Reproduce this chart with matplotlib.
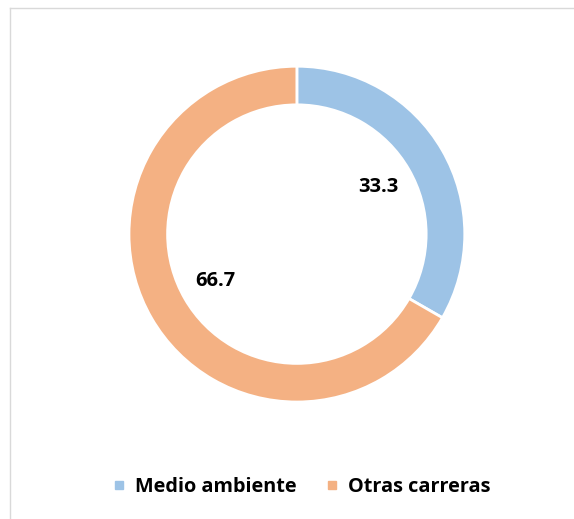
import matplotlib
matplotlib.use('Agg')
import matplotlib.pyplot as plt
from matplotlib.lines import Line2D
import numpy as np

plt.rcParams['font.family'] = ['Open Sans', 'DejaVu Sans']

categorias = ['Medio ambiente', 'Otras carreras']
valores = [33.3, 66.7]
colores = ['#9DC3E6', '#F4B183']

fig = plt.figure(figsize=(5.74, 5.19), dpi=100)
ax = fig.add_axes([0.2247, 0.2254, 0.585, 0.647])

wedges, _ = ax.pie(valores, colors=colores, startangle=90, counterclock=False,
                   radius=1, wedgeprops=dict(width=0.23, edgecolor='white', linewidth=2))

# etiquetas dentro del anillo
ang0 = 90
for v in valores:
    ang = ang0 - v / sum(valores) * 360 / 2
    ang0 -= v / sum(valores) * 360
    ax.text(0.56 * np.cos(np.radians(ang)), 0.56 * np.sin(np.radians(ang)), f'{v:.1f}',
            ha='center', va='center', fontsize=14.5, fontweight='bold', color='black')

ax.set_xlim(-1, 1)
ax.set_ylim(-1, 1)
ax.set_aspect('equal')
ax.axis('off')

handles = [Line2D([], [], marker='s', linestyle='none', markersize=6,
                  markerfacecolor=c, markeredgecolor=c) for c in colores]
leg = fig.legend(handles, categorias, loc='center', bbox_to_anchor=(0.521, 0.062),
                 ncol=2, frameon=False, handletextpad=0.25, columnspacing=1.25,
                 handlelength=1.1, prop={'size': 14.3, 'weight': 'bold'})

# borde del gráfico (arriba e izquierda)
fig.add_artist(Line2D([9.5 / 574, 1], [1 - 7.5 / 519, 1 - 7.5 / 519],
                      transform=fig.transFigure, color='#D9D9D9', linewidth=1))
fig.add_artist(Line2D([9.5 / 574, 9.5 / 574], [0, 1 - 7.5 / 519],
                      transform=fig.transFigure, color='#D9D9D9', linewidth=1))

fig.savefig('out.png', dpi=100)
